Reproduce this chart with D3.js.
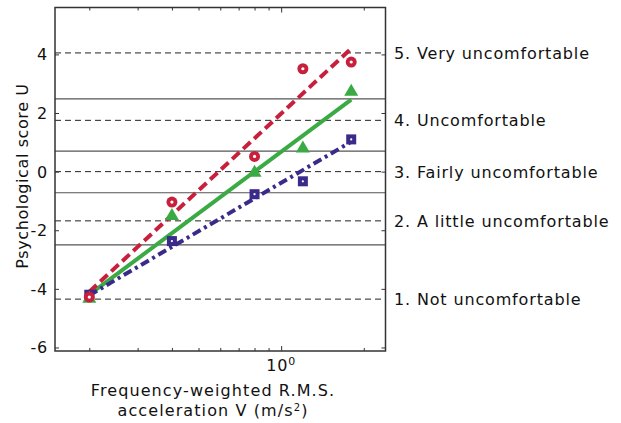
<!DOCTYPE html>
<html><head><meta charset="utf-8">
<script src="https://cdn.jsdelivr.net/npm/d3@7"></script>
<style>body{margin:0;background:#fff}svg{display:block}text{font-family:"DejaVu Sans",sans-serif;fill:#111}</style>
</head><body><svg id="c" width="621" height="423"></svg>
<script>
const xVals = [0.2, 0.4, 0.8, 1.2, 1.8];
const circleVals = [-4.28, -1.04, 0.52, 3.51, 3.74];
const triangleVals = [-4.3, -1.48, 0.0, 0.82, 2.76];
const squareVals = [-4.2, -2.37, -0.77, -0.33, 1.10];
const fitX = [0.2, 1.8];
const fitRed = [-4.1, 4.2];
const fitGreen = [-4.2, 2.46];
const fitBlue = [-4.22, 1.02];
const yTicks = [-6, -4, -2, 0, 2, 4];
const xMinorTicks = [0.2, 0.3, 0.4, 0.5, 0.6, 0.7, 0.8, 0.9, 2];
const boundaries = [2.48, 0.7, -0.72, -2.5];
const levelVals = [4.05, 1.75, 0, -1.68, -4.35];
const levelLabels = ["5. Very uncomfortable", "4. Uncomfortable", "3. Fairly uncomfortable", "2. A little uncomfortable", "1. Not uncomfortable"];

const svg = d3.select("#c");
const L = 55, R = 385.5, T = 7.5, B = 351;
const x = d3.scaleLog().domain([0.15, 2.4]).range([L, R]);
const y = d3.scaleLinear().domain([-6.12, 5.6]).range([B, T]);

const red = "#c8203c", green = "#3aaa45", blue = "#3a2a8a";

svg.selectAll("line.b").data(boundaries).join("line")
  .attr("x1", L).attr("x2", R).attr("y1", d => y(d)).attr("y2", d => y(d))
  .attr("stroke", "#555").attr("stroke-width", 1.2);
svg.selectAll("line.l").data(levelVals).join("line")
  .attr("x1", L).attr("x2", R).attr("y1", d => y(d)).attr("y2", d => y(d))
  .attr("stroke", "#222").attr("stroke-width", 1).attr("stroke-dasharray", "6,4");

svg.append("rect").attr("x", L).attr("y", T).attr("width", R - L).attr("height", B - T)
  .attr("fill", "none").attr("stroke", "#333").attr("stroke-width", 1.5);

const yl = svg.append("g").attr("transform", `translate(${L},0)`)
  .call(d3.axisRight(y).tickValues(yTicks).tickSize(4).tickFormat(""));
const yr = svg.append("g").attr("transform", `translate(${R},0)`)
  .call(d3.axisLeft(y).tickValues(yTicks).tickSize(4).tickFormat(""));
const xb = svg.append("g").attr("transform", `translate(0,${B})`)
  .call(d3.axisTop(x).tickValues(xMinorTicks).tickSize(3).tickFormat(""));
const xbM = svg.append("g").attr("transform", `translate(0,${B})`)
  .call(d3.axisTop(x).tickValues([1]).tickSize(5).tickFormat(""));
const xt = svg.append("g").attr("transform", `translate(0,${T})`)
  .call(d3.axisBottom(x).tickValues(xMinorTicks).tickSize(3).tickFormat(""));
const xtM = svg.append("g").attr("transform", `translate(0,${T})`)
  .call(d3.axisBottom(x).tickValues([1]).tickSize(5).tickFormat(""));
[yl, yr, xb, xbM, xt, xtM].forEach(g => { g.select(".domain").remove(); g.selectAll("line").attr("stroke", "#333"); });

svg.selectAll("text.yt").data(yTicks).join("text")
  .attr("x", 48).attr("y", d => y(d) + 6).attr("text-anchor", "end")
  .attr("font-size", 16).attr("letter-spacing", 0.8).text(d => d);

const xl = svg.append("text").attr("x", x(1)).attr("y", 371).attr("text-anchor", "middle").attr("font-size", 16).attr("letter-spacing", 0.8);
xl.append("tspan").text("10");
xl.append("tspan").attr("dy", -6).attr("font-size", 11).text("0");

const line = d3.line().x(d => x(d[0])).y(d => y(d[1]));
function fit(vals, color, dash, w) {
  svg.append("path").datum(fitX.map((v, i) => [v, vals[i]])).attr("d", line)
    .attr("fill", "none").attr("stroke", color).attr("stroke-width", w)
    .attr("stroke-dasharray", dash);
}
fit(fitGreen, green, null, 4);
fit(fitBlue, blue, "9,4,3,4", 4);
fit(fitRed, red, "10,5", 4);

const sq = svg.append("g");
xVals.forEach((v, i) => {
  sq.append("rect").attr("x", x(v) - 5).attr("y", y(squareVals[i]) - 5).attr("width", 10).attr("height", 10).attr("fill", blue);
  sq.append("circle").attr("cx", x(v)).attr("cy", y(squareVals[i])).attr("r", 1.1).attr("fill", "#fff");
});
const tri = svg.append("g");
xVals.forEach((v, i) => {
  const cx = x(v), cy = y(triangleVals[i]);
  tri.append("path").attr("d", `M${cx},${cy - 7}L${cx + 7},${cy + 5}L${cx - 7},${cy + 5}Z`).attr("fill", green);
});
const ci = svg.append("g");
xVals.forEach((v, i) => {
  ci.append("circle").attr("cx", x(v)).attr("cy", y(circleVals[i])).attr("r", 5.5).attr("fill", red);
  ci.append("circle").attr("cx", x(v)).attr("cy", y(circleVals[i])).attr("r", 1.6).attr("fill", "#fff");
});

svg.selectAll("text.lv").data(levelVals).join("text")
  .attr("x", 394).attr("y", d => y(d) + 6).attr("font-size", 16).attr("letter-spacing", 0.85)
  .text((d, i) => levelLabels[i]);

svg.append("text").attr("transform", `translate(28,176) rotate(-90)`).attr("text-anchor", "middle")
  .attr("font-size", 16).attr("letter-spacing", 0.6).text("Psychological score U");
svg.append("text").attr("x", 213).attr("y", 396).attr("text-anchor", "middle").attr("font-size", 16).attr("letter-spacing", 1.1)
  .text("Frequency-weighted R.M.S.");
const t2 = svg.append("text").attr("x", 213).attr("y", 416).attr("text-anchor", "middle").attr("font-size", 16).attr("letter-spacing", 1.1);
t2.append("tspan").text("acceleration V (m/s");
t2.append("tspan").attr("dy", -5).attr("font-size", 10).text("2");
t2.append("tspan").attr("dy", 5).text(")");
</script></body></html>
